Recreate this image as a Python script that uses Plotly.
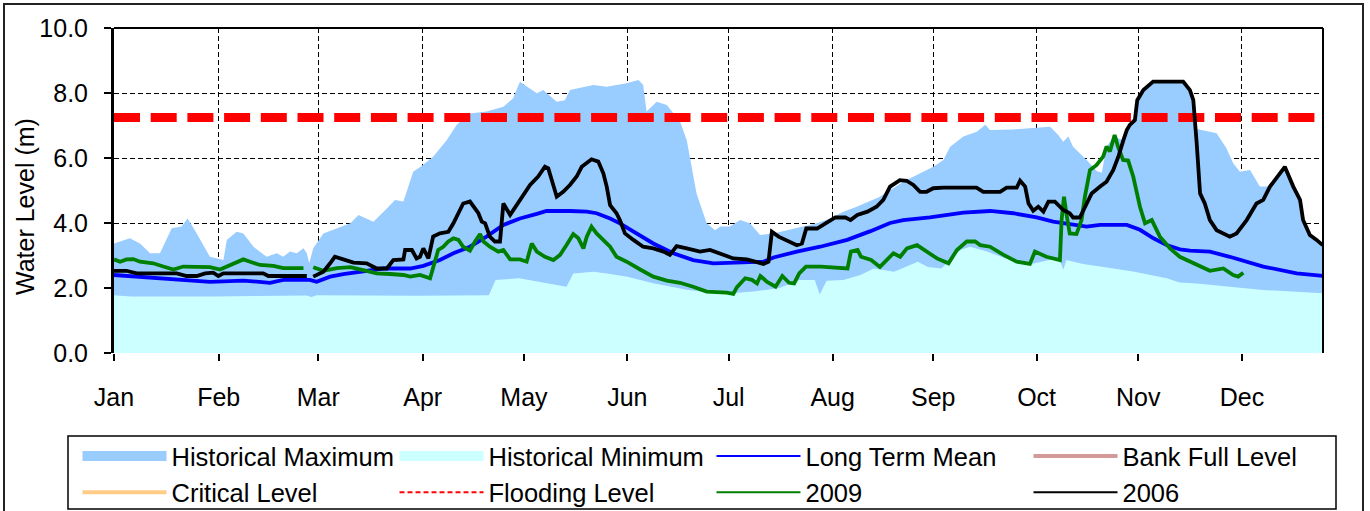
import plotly.graph_objects as go

# ---------------- data (x = day of year, y = water level in m) ----------------
month_labels = ["Jan", "Feb", "Mar", "Apr", "May", "Jun", "Jul", "Aug", "Sep", "Oct", "Nov", "Dec"]
month_ticks = [0, 31, 60.5, 91.4, 121.4, 152, 182, 212.8, 242.6, 273.2, 303.3, 334]
x_end = 358

hist_max_days = [0, 4.7, 7.7, 10.7, 13.6, 17.1, 20, 21.8, 24.5, 28.4, 32.4, 33.4, 36.3, 38.3, 41.3, 45.2, 48.2,
                 50.1, 52.1, 54.1, 56.1, 57.1, 57.8, 59, 62, 66, 70, 72.4, 76.8, 80.8, 83.2, 85.7, 88.6, 91, 94.5,
                 98.5, 101.5, 105.4, 110.3, 115.3, 118.2, 120.2, 125.2, 127.1, 131.1, 133.5, 135, 141.9, 145.9,
                 151.8, 155.3, 156.7, 157.7, 160.7, 163.7, 167.6, 169.6, 172.5, 175.5, 178, 179.5, 182.4, 185.4,
                 188.3, 191.3, 195.2, 202.1, 208.1, 212, 216, 219.9, 226.8, 233.7, 237.7, 242.6, 245.6, 247.6,
                 251.5, 255.5, 258, 259.4, 266.3, 271.2, 277.2, 279.6, 281.1, 282.6, 284, 288, 291, 292.5, 293.9,
                 296.3, 297.4, 298.9, 299.9, 300.8, 302.3, 303, 304.8, 307.7, 316.6, 318.6, 319.6, 320.3, 326.5,
                 329.4, 331.4, 333.4, 336.4, 339.3, 342.3, 344.2, 346.7, 349.2, 351.2, 352.1, 354.1, 356.1, 358]
hist_max_vals = [3.37, 3.53, 3.37, 3.07, 3.07, 3.84, 3.89, 4.14, 3.68, 2.96, 2.86, 3.48, 3.73, 3.68, 3.27, 2.96, 3.07,
                 2.96, 3.12, 3.07, 3.22, 3.07, 2.76, 3.22, 3.68, 3.84, 3.99, 4.25, 4.04, 4.45, 4.71, 4.66, 5.58, 5.75,
                 6.04, 6.55, 7.02, 7.37, 7.43, 7.58, 7.84, 8.35, 7.99, 8.09, 7.73, 7.78, 8.09, 8.25, 8.19, 8.3, 8.4,
                 8.25, 7.43, 7.73, 7.63, 7.12, 6.55, 4.91, 3.99, 3.78, 3.89, 3.89, 4.09, 3.99, 3.63, 3.68, 3.84, 3.99,
                 4.14, 4.35, 4.5, 4.81, 5.27, 5.48, 5.73, 5.94, 6.35, 6.66, 6.81, 7.02, 6.86, 6.88, 6.91, 6.96, 6.71,
                 6.5, 6.66, 6.35, 5.94, 5.6, 5.55, 6.35, 6.71, 6.6, 6.55, 6.91, 7.02, 7.17, 7.78, 8.09, 8.35, 8.35,
                 8.09, 7.78, 6.9, 6.76, 6.3, 5.84, 5.58, 5.63, 5.12, 5.12, 5.37, 5.73, 5.12, 4.71, 4.09, 3.63, 3.48,
                 3.32]

hist_min_days = [0, 5, 30, 57, 58.5, 60, 90, 111, 113, 120, 134, 136, 142, 146, 152, 160, 170, 178, 183, 190, 197,
                 203, 207.5, 209, 211, 216, 221, 225, 231, 238, 241, 245, 250.5, 253.5, 258.5, 265.3, 270.3, 277,
                 280.1, 281.1, 282, 287, 292, 301.8, 311.7, 315.6, 320.6, 330.4, 340.3, 358]
hist_min_vals = [1.78, 1.74, 1.74, 1.77, 1.72, 1.78, 1.76, 1.78, 2.25, 2.3, 2.04, 2.45, 2.5, 2.45, 2.35, 2.14, 1.94,
                 1.84, 1.84, 1.9, 2.0, 2.25, 2.25, 1.8, 2.22, 2.25, 2.4, 2.6, 2.5, 2.81, 2.65, 2.6, 3.17, 3.27, 3.12,
                 2.86, 2.71, 2.86, 2.86, 2.56, 2.86, 2.74, 2.66, 2.51, 2.3, 2.17, 2.14, 2.04, 1.94, 1.84]

mean_days = [0, 8.7, 18.6, 28.4, 38.3, 46.2, 50.1, 58, 60, 64, 67.9, 73.8, 79.8, 87.7, 91.6, 96.5, 100.5, 105.4,
             110.3, 115.3, 120.2, 125.2, 128.1, 135, 140, 142.9, 146.9, 149.8, 153.8, 159.7, 165.6, 171.5, 177.5,
             181.4, 185.4, 192.3, 195.3, 202.2, 209.1, 217.1, 224, 229.8, 233.7, 241.6, 251.5, 259.4, 266.3, 273.2,
             278.1, 284, 288, 292, 299.9, 303.8, 307.8, 311.7, 315.6, 318.6, 324.5, 330.4, 340.3, 350.2, 358]
mean_vals = [2.4, 2.33, 2.25, 2.19, 2.23, 2.16, 2.25, 2.25, 2.19, 2.35, 2.43, 2.5, 2.6, 2.6, 2.68, 2.86, 3.07, 3.27,
             3.58, 3.94, 4.14, 4.28, 4.37, 4.37, 4.35, 4.3, 4.14, 3.99, 3.73, 3.37, 3.07, 2.86, 2.76, 2.78, 2.8, 2.81,
             2.94, 3.12, 3.27, 3.48, 3.75, 4.0, 4.09, 4.17, 4.32, 4.37, 4.3, 4.17, 4.04, 3.94, 3.89, 3.94, 3.94, 3.79,
             3.53, 3.32, 3.19, 3.15, 3.12, 2.96, 2.66, 2.45, 2.37]

y2009_days = [0, 1.8, 3.7, 5.7, 7.7, 11.6, 14.6, 17.6, 20.5, 24.5, 28.4, 31.4, 34.4, 36.3, 38.3, 40.3, 43.2, 47.2,
              50.1, 56.1, 58.5, 59, 62, 66, 70, 73.8, 77.8, 81.7, 85.7, 87.7, 90.6, 93.6, 94.5, 96, 97.5, 99, 100.5,
              102, 103.4, 105.4, 106.9, 108.4, 109.4, 111.3, 113.8, 115.3, 117.3, 120.2, 122.2, 123.7, 125.2, 127.6,
              130.1, 132.1, 134, 136, 137.5, 139, 140, 141.4, 142.9, 144.4, 146.9, 148.8, 151.8, 155.8, 159.7,
              163.7, 167.6, 171.5, 175.5, 181.4, 183.4, 184.4, 186.9, 188.9, 190.4, 191.4, 193.4, 195.9, 197.9,
              199.9, 201.4, 202.9, 204.9, 209.3, 217.2, 218.2, 220.2, 221.2, 224.2, 226.8, 230.8, 232.8, 234.8,
              237.8, 240.7, 243.7, 247.1, 249.6, 252.5, 255, 256.5, 259.4, 263.4, 267.3, 271.2, 272.7, 276.1,
              280.1, 280.6, 281.3, 282, 283, 285, 286.5, 287.5, 289, 290.9, 292.9, 293.9, 294.9, 296.3, 297.3,
              298.8, 300.3, 301.8, 303.8, 305.3, 307.3, 309.7, 312.7, 315.6, 319.6, 322.5, 324.5, 328.5, 331.4,
              332.9, 334.4]
y2009_vals = [2.88, 2.81, 2.88, 2.89, 2.81, 2.76, 2.66, 2.57, 2.66, 2.66, 2.64, 2.57, 2.71, 2.81, 2.88, 2.81, 2.71,
              2.68, 2.61, 2.61, None, 2.64, 2.53, 2.61, 2.64, 2.55, 2.45, 2.43, 2.4, 2.35, 2.4, 2.3, 2.66, 3.17, 3.27,
              3.43, 3.53, 3.48, 3.27, 3.15, 3.43, 3.66, 3.43, 3.27, 3.12, 3.17, 2.88, 2.88, 2.81, 3.37, 3.12, 2.96,
              2.86, 3.02, 3.32, 3.66, 3.53, 3.22, 3.58, 3.89, 3.68, 3.53, 3.27, 2.96, 2.81, 2.57, 2.35, 2.23, 2.16,
              2.04, 1.89, 1.86, 1.82, 2.02, 2.3, 2.25, 2.14, 2.37, 2.19, 2.04, 2.37, 2.16, 2.14, 2.45, 2.66, 2.66,
              2.6, 3.12, 3.17, 2.96, 2.86, 2.65, 3.07, 2.96, 3.22, 3.32, 3.12, 2.91, 2.76, 3.17, 3.43, 3.43, 3.32,
              3.27, 3.02, 2.81, 2.74, 3.12, 2.96, 2.86, 4.09, 4.81, 4.3, 3.68, 3.66, 4.09, 4.81, 5.63, 5.78, 6.04,
              6.35, 6.2, 6.71, 6.35, 5.94, 5.92, 5.43, 4.5, 3.99, 4.09, 3.58, 3.22, 2.96, 2.76, 2.6, 2.53, 2.6, 2.4,
              2.35, 2.47]

y2006_days = [0, 3.7, 6.7, 18.6, 21.5, 24.5, 27, 29.4, 30.9, 32.4, 44.2, 45.7, 57.1, 58.5, 59, 62, 64, 65.4, 67.9,
              70.9, 74.8, 77.8, 80.8, 82.7, 85.7, 86.2, 88.2, 89.6, 90.6, 91.6, 93.1, 94.5, 96.5, 99, 100.5, 103.4,
              105.4, 107.9, 108.9, 109.9, 111.3, 112.8, 114.3, 115.3, 117.3, 120.2, 123.2, 125.6, 127.6, 128.6,
              131.1, 133, 135, 137, 138.5, 141.4, 143.4, 144.9, 145.9, 146.9, 148.8, 149.8, 151.3, 153.8, 156.7,
              159.7, 162.7, 164.6, 166.6, 169.6, 173.5, 176.5, 179.4, 183.4, 187.4, 190.4, 192.3, 193.8, 194.8,
              196.8, 199.2, 202.2, 203.7, 205, 208.2, 212.1, 213.6, 216.6, 218.1, 220.1, 223.1, 225.8, 227.8,
              229.8, 232.7, 234.7, 236.7, 238.7, 240.6, 242.6, 245.6, 255.4, 257.4, 262.4, 264.3, 267.3, 268.3,
              269.8, 270.8, 272.2, 273.7, 275.2, 276.7, 278.6, 281.1, 283, 284, 286, 287.5, 289.5, 292, 293.9,
              295.9, 297.4, 298.9, 299.9, 300.8, 302.3, 303, 304.8, 307.7, 316.6, 318.6, 319.6, 320.6, 321.6, 323,
              324.5, 326.5, 330.4, 332.4, 335.4, 338.3, 340.3, 342.3, 344.2, 346.7, 349.2, 351.2, 352.1, 354.1,
              356.1, 357.9]
y2006_vals = [2.53, 2.53, 2.45, 2.45, 2.37, 2.37, 2.45, 2.47, 2.37, 2.45, 2.45, 2.37, 2.37, None, 2.35, 2.5, 2.76,
              2.96, 2.88, 2.78, 2.76, 2.6, 2.6, 2.86, 2.88, 3.17, 3.17, 2.91, 2.96, 3.22, 2.91, 3.58, 3.68, 3.73,
              3.99, 4.6, 4.66, 4.3, 4.04, 3.99, 3.58, 3.43, 3.43, 4.6, 4.25, 4.71, 5.17, 5.43, 5.73, 5.68, 4.81,
              4.96, 5.17, 5.43, 5.73, 5.96, 5.89, 5.53, 5.12, 4.55, 4.3, 4.09, 3.68, 3.48, 3.27, 3.22, 3.12, 3.02,
              3.29, 3.22, 3.12, 3.17, 3.07, 2.91, 2.88, 2.81, 2.74, 2.81, 3.73, 3.58, 3.46, 3.32, 3.37, 3.83, 3.83,
              4.09, 4.17, 4.17, 4.09, 4.25, 4.35, 4.5, 4.71, 5.12, 5.32, 5.3, 5.17, 4.96, 4.96, 5.07, 5.09, 5.09,
              4.96, 4.96, 5.09, 5.09, 5.3, 5.12, 4.6, 4.38, 4.5, 4.35, 4.66, 4.66, 4.4, 4.3, 4.17, 4.17, 4.5, 4.91,
              5.12, 5.27, 5.63, 6.04, 6.55, 6.86, 7.02, 7.17, 7.78, 8.09, 8.35, 8.35, 8.09, 7.78, 6.45, 4.91, 4.6,
              4.09, 3.78, 3.58, 3.68, 4.09, 4.6, 4.71, 5.12, 5.37, 5.73, 5.12, 4.71, 4.09, 3.63, 3.48, 3.32]

flood_level = 7.25

legend_names = ["Historical Maximum", "Historical Minimum", "Long Term Mean", "Bank Full Level",
                "Critical Level", "Flooding Level", "2009", "2006"]

# ---------------- figure ----------------
FONT = "Arial, Liberation Sans, sans-serif"
FS = 25
fig = go.Figure()

# plotted data (legend entries are added separately below, in the reference's style)
fig.add_trace(go.Scatter(x=hist_max_days, y=hist_max_vals, name=legend_names[0], mode="lines", showlegend=False,
                         line=dict(width=0, color="#99CCFF"), fill="tozeroy", fillcolor="#99CCFF"))
fig.add_trace(go.Scatter(x=hist_min_days, y=hist_min_vals, name=legend_names[1], mode="lines", showlegend=False,
                         line=dict(width=0, color="#CCFFFF"), fill="tozeroy", fillcolor="#CCFFFF"))
fig.add_trace(go.Scatter(x=mean_days, y=mean_vals, name=legend_names[2], mode="lines", showlegend=False,
                         line=dict(width=3.8, color="#0000FF")))
fig.add_trace(go.Scatter(x=[0, x_end], y=[flood_level, flood_level], name=legend_names[5], mode="lines",
                         showlegend=False, line=dict(width=9, color="#FF0000", dash="26px,10.7px")))
fig.add_trace(go.Scatter(x=y2009_days, y=y2009_vals, name=legend_names[6], mode="lines", showlegend=False,
                         line=dict(width=3.8, color="#008000"), connectgaps=False))
fig.add_trace(go.Scatter(x=y2006_days, y=y2006_vals, name=legend_names[7], mode="lines", showlegend=False,
                         line=dict(width=3.8, color="#000000"), connectgaps=False))

# legend entries
legend_styles = [
    dict(width=15, color="#99CCFF"),
    dict(width=15, color="#CCFFFF"),
    dict(width=2, color="#0000FF"),
    dict(width=4, color="#D49A9A"),
    dict(width=4, color="#FFCC88"),
    dict(width=2, color="#FF0000", dash="5px,3px"),
    dict(width=2, color="#008000"),
    dict(width=2, color="#000000"),
]
for nm, st in zip(legend_names, legend_styles):
    fig.add_trace(go.Scatter(x=[None], y=[None], name=nm, mode="lines", line=st, showlegend=True,
                             hoverinfo="skip"))

grid = dict(showgrid=True, gridcolor="black", gridwidth=1.2, griddash="5px,3px")

fig.update_xaxes(range=[0, x_end], tickmode="array", tickvals=month_ticks, ticktext=month_labels,
                 ticks="outside", ticklen=7, tickwidth=1.5, tickcolor="black", showline=False,
                 zeroline=False, ticklabelstandoff=15, tickfont=dict(size=FS, family=FONT, color="black"), **grid)
fig.update_yaxes(range=[0, 10], tick0=0, dtick=2, tickformat=".1f", ticks="outside", ticklen=7, tickwidth=1.5,
                 tickcolor="black", showline=True, linecolor="black", linewidth=3, zeroline=False,
                 ticklabelstandoff=11, tickfont=dict(size=FS, family=FONT, color="black"), **grid)

PW, PH, L, T = 1209, 325, 114, 28


def px_x(p):
    return (p - L) / PW


def px_y(p):
    return (T + PH - p) / PH


fig.update_layout(
    width=1370, height=511,
    margin=dict(l=114, r=47, t=28, b=158, autoexpand=False),
    plot_bgcolor="white", paper_bgcolor="white",
    font=dict(family=FONT, size=FS, color="black"),
    showlegend=True,
    legend=dict(orientation="h", x=px_x(77.5), y=px_y(433), xanchor="left", yanchor="top",
                bgcolor="rgba(0,0,0,0)", borderwidth=0,
                itemwidth=84, entrywidth=218, entrywidthmode="pixels", traceorder="normal",
                font=dict(size=25.5, family=FONT, color="black"), itemclick=False, itemdoubleclick=False),
    annotations=[dict(text="Water Level (m)", textangle=-90, xref="paper", yref="paper",
                      x=px_x(25), y=px_y(207), xanchor="center", yanchor="middle", showarrow=False,
                      font=dict(size=FS, family=FONT, color="black"))],
    shapes=[
        dict(type="line", xref="paper", yref="paper", x0=0, x1=1, y0=1, y1=1, line=dict(color="black", width=2)),
        dict(type="line", xref="paper", yref="paper", x0=1, x1=1, y0=0, y1=1, line=dict(color="black", width=2)),
        dict(type="rect", xref="paper", yref="paper", x0=px_x(4), x1=px_x(1363), y0=px_y(520), y1=px_y(4),
             line=dict(color="#222222", width=2), layer="above"),
        dict(type="rect", xref="paper", yref="paper", x0=px_x(68), x1=px_x(1336), y0=px_y(509), y1=px_y(436),
             line=dict(color="black", width=1.5), layer="above"),
    ],
)

fig.write_html("out.html", config={"displayModeBar": False},
               post_script="document.body.style.margin='0px';")
